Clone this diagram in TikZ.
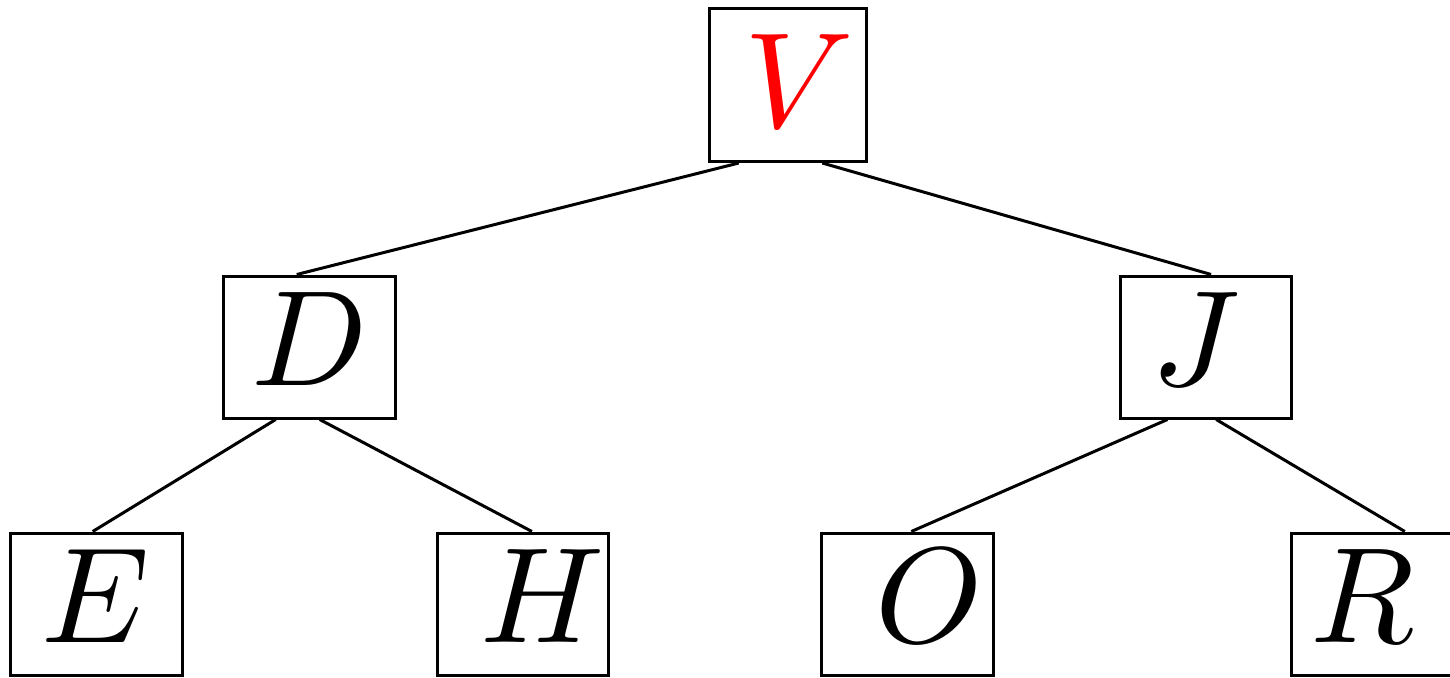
\documentclass[tikz,border=0pt]{standalone}
\usepackage{graphicx}
% big math letter, optional sideways shift
\newcommand{\treeletter}[2][0pt]{\makebox[0pt]{\hspace*{#1}\hspace*{#1}\scalebox{10.2}{$#2$}}}
\begin{document}
\begin{tikzpicture}[x=0.75pt,y=0.75pt,yscale=-1,xscale=1,
  treebox/.style={draw,line width=2.25pt,inner sep=0pt,minimum width=128.5pt,minimum height=106.5pt,text height=58pt,text depth=0pt},
  rootbox/.style={treebox,minimum width=117.75pt,minimum height=114.75pt,text height=64pt},
  treeedge/.style={line width=2.25pt}]
\clip (0,0) rectangle (1450,678);
\node [rootbox] (V) at (787.5,85) {\treeletter[9pt]{\color[rgb]{1,0,0}V}};
\node [treebox] (D) at (309.5,347) {\treeletter{D}};
\node [treebox] (J) at (1206,347) {\treeletter[-7.5pt]{J}};
\node [treebox] (E) at (96.5,604) {\treeletter[-1pt]{E}};
\node [treebox] (H) at (523,604) {\treeletter[14.5pt]{H}};
\node [treebox] (O) at (907.5,604) {\treeletter[16pt]{O}};
\node [treebox] (R) at (1377,604) {\treeletter[-11pt]{R}};
\draw [treeedge] (V.238.7) -- (D.100.3) ;
\draw [treeedge] (V.294.9) -- (J.86.8) ;
\draw [treeedge] (D.245.2) -- (E.93.6) ;
\draw [treeedge] (D.278) -- (H.83.6) ;
\draw [treeedge] (J.242.6) -- (O.87.2) ;
\draw [treeedge] (J.278.7) -- (R.69.9) ;
\end{tikzpicture}
\end{document}
